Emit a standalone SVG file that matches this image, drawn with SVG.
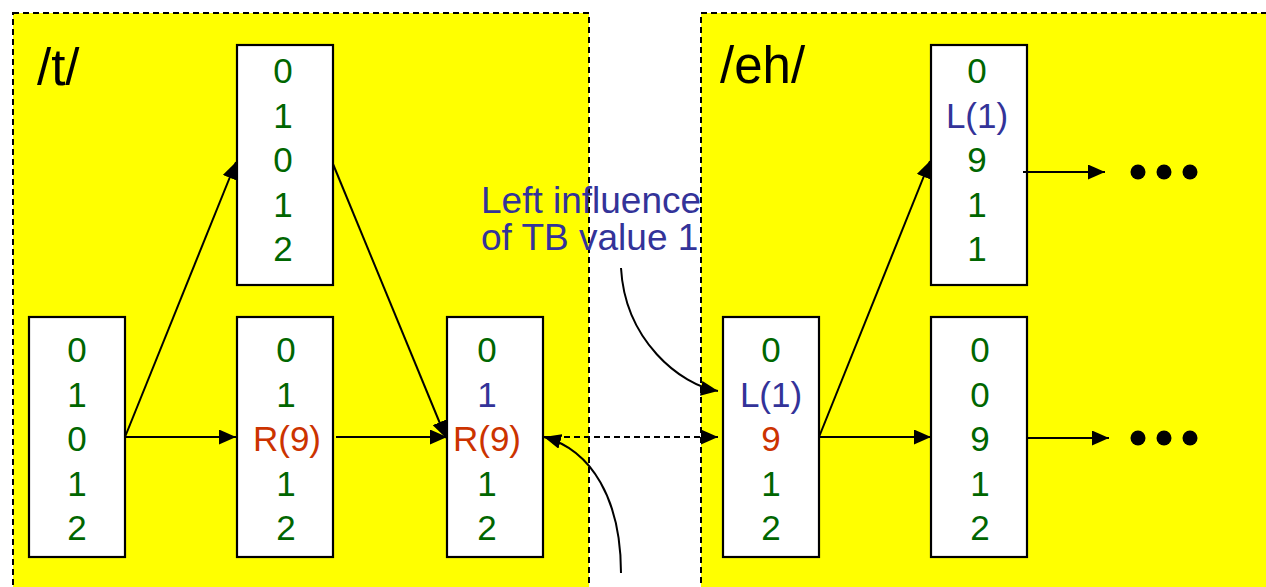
<svg xmlns="http://www.w3.org/2000/svg" width="1266" height="587" viewBox="0 0 1266 587">
<style>
.panel{fill:#ffff00;stroke:#000;stroke-width:2;stroke-dasharray:6 4}
.box{fill:#fff;stroke:#000;stroke-width:2.2}
.t{font-family:"Liberation Sans",Arial,sans-serif;font-size:35px;text-anchor:middle}
.g{fill:#006600}.b{fill:#333399}.r{fill:#cc3300}
.lbl{font-family:"Liberation Sans",Arial,sans-serif;font-size:51px;fill:#000}
.note{font-family:"Liberation Sans",Arial,sans-serif;font-size:37px;fill:#333399}
.c{fill:none;stroke:#000;stroke-width:2}
.d{stroke-dasharray:6 4}
</style>
<defs>
<marker id="ah" markerUnits="userSpaceOnUse" markerWidth="17" markerHeight="15" refX="17" refY="7.5" orient="auto">
<path d="M0,0 L17,7.5 L0,15 z" fill="#000"/>
</marker>
</defs>
<g id="panel-t">
<rect class="panel" x="13" y="13" width="576" height="600"/>
<text class="lbl" x="37" y="85">/t/</text>
</g>
<g id="panel-eh">
<rect class="panel" x="701" y="13" width="600" height="600"/>
<text class="lbl" x="720" y="83">/eh/</text>
</g>
<g id="note">
<text class="note" x="481" y="213">Left influence</text>
<text class="note" x="481" y="250">of TB value 1</text>
</g>
<g id="node-t1">
<rect class="box" x="29" y="317" width="96" height="240"/>
<text class="t g" x="77" y="362">0</text>
<text class="t g" x="77" y="406.5">1</text>
<text class="t g" x="77" y="451">0</text>
<text class="t g" x="77" y="495.5">1</text>
<text class="t g" x="77" y="540">2</text>
</g>
<g id="node-t2">
<rect class="box" x="237" y="45" width="96" height="240"/>
<text class="t g" x="283" y="83">0</text>
<text class="t g" x="283" y="127.5">1</text>
<text class="t g" x="283" y="172">0</text>
<text class="t g" x="283" y="216.5">1</text>
<text class="t g" x="283" y="261">2</text>
</g>
<g id="node-t3">
<rect class="box" x="237" y="317" width="96" height="240"/>
<text class="t g" x="286" y="362">0</text>
<text class="t g" x="286" y="406.5">1</text>
<text class="t r" x="287" y="451">R(9)</text>
<text class="t g" x="286" y="495.5">1</text>
<text class="t g" x="286" y="540">2</text>
</g>
<g id="node-t4">
<rect class="box" x="447" y="317" width="96" height="240"/>
<text class="t g" x="487" y="362">0</text>
<text class="t b" x="487" y="406.5">1</text>
<text class="t r" x="487" y="451">R(9)</text>
<text class="t g" x="487" y="495.5">1</text>
<text class="t g" x="487" y="540">2</text>
</g>
<g id="node-eh1">
<rect class="box" x="723" y="317" width="96" height="240"/>
<text class="t g" x="771" y="362">0</text>
<text class="t b" x="771" y="406.5">L(1)</text>
<text class="t r" x="771" y="451">9</text>
<text class="t g" x="771" y="495.5">1</text>
<text class="t g" x="771" y="540">2</text>
</g>
<g id="node-eh2">
<rect class="box" x="931" y="45" width="96" height="240"/>
<text class="t g" x="977" y="83">0</text>
<text class="t b" x="977" y="127.5">L(1)</text>
<text class="t g" x="977" y="172">9</text>
<text class="t g" x="977" y="216.5">1</text>
<text class="t g" x="977" y="261">1</text>
</g>
<g id="node-eh3">
<rect class="box" x="931" y="317" width="96" height="240"/>
<text class="t g" x="980" y="362">0</text>
<text class="t g" x="980" y="406.5">0</text>
<text class="t g" x="980" y="451">9</text>
<text class="t g" x="980" y="495.5">1</text>
<text class="t g" x="980" y="540">2</text>
</g>
<g id="dots">
<circle cx="1138" cy="172" r="7.5"/><circle cx="1164" cy="172" r="7.5"/><circle cx="1190" cy="172" r="7.5"/>
<circle cx="1138" cy="438" r="7.5"/><circle cx="1164" cy="438" r="7.5"/><circle cx="1190" cy="438" r="7.5"/>
</g>
<g id="connectors">
<line class="c" x1="125" y1="437" x2="236" y2="162" marker-end="url(#ah)"/>
<line class="c" x1="125" y1="437" x2="236" y2="437" marker-end="url(#ah)"/>
<line class="c" x1="333" y1="164" x2="446" y2="438" marker-end="url(#ah)"/>
<line class="c" x1="336" y1="437" x2="447" y2="437" marker-end="url(#ah)"/>
<line class="c d" x1="544" y1="437" x2="718" y2="437" marker-end="url(#ah)"/>
<path class="c" d="M621,268 C625,340 680,385 718,391" marker-end="url(#ah)"/>
<path class="c" d="M621,573 C621,500 592,450 544,437" marker-end="url(#ah)"/>
<line class="c" x1="819" y1="437" x2="930" y2="161" marker-end="url(#ah)"/>
<line class="c" x1="819" y1="437" x2="931" y2="437" marker-end="url(#ah)"/>
<line class="c" x1="1023" y1="172" x2="1105" y2="172" marker-end="url(#ah)"/>
<line class="c" x1="1027" y1="438" x2="1109" y2="438" marker-end="url(#ah)"/>
</g>
</svg>
